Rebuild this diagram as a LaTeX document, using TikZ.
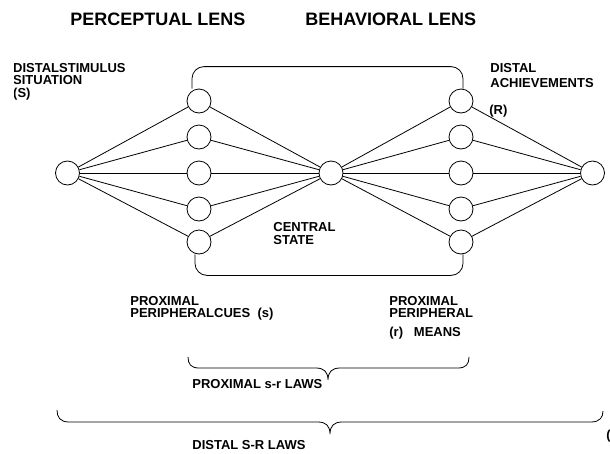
\documentclass[tikz,border=0pt]{standalone}
\usepackage{fontspec}
\setmainfont{Liberation Sans}
\begin{document}
\begin{tikzpicture}[x=1pt, y=-1pt, line width=0.8pt,
        unit/.style = {draw, circle, minimum size=24pt, inner sep=0pt},
        lab/.style = {anchor=north west, inner sep=0pt, align=left, font=\bfseries\fontsize{13}{12.3}\selectfont},
        head/.style = {anchor=north west, inner sep=0pt, font=\bfseries\fontsize{18}{18}\selectfont}]
        \useasboundingbox (0,0) rectangle (610,453);
        \begin{scope}[every node/.style = {unit}]
            \node (S) at (67.5, 173) {};
            \node (p1) at (199, 101) {};
            \node (p2) at (199, 137) {};
            \node (p3) at (199, 173) {};
            \node (p4) at (199, 209) {};
            \node (p5) at (199, 242) {};
            \node (C) at (331, 173) {};
            \node (m1) at (461, 101) {};
            \node (m2) at (461, 137) {};
            \node (m3) at (461, 173) {};
            \node (m4) at (461, 209) {};
            \node (m5) at (461, 242) {};
            \node (R) at (592.5, 173) {};
        \end{scope}
        \draw (S) edge (p1) edge (p2) edge (p3) edge (p4) edge (p5);
        \draw (C) edge (p1) edge (p2) edge (p3) edge (p4) edge (p5);
        \draw (C) edge (m1) edge (m2) edge (m3) edge (m4) edge (m5);
        \draw (R) edge (m1) edge (m2) edge (m3) edge (m4) edge (m5);
        % lens brackets
        \draw[rounded corners=12pt] ([xshift=-7pt]p1.north) -- ++(0,-22) -| ([xshift=2pt]m1.north);
        \draw[rounded corners=12pt] ([xshift=-4pt]p5.south) -- ++(0,21) -| ([xshift=2pt]m5.south);
        % braces
        \draw (188,357) .. controls (188,364) and (191,368) .. (199,368) -- (316,368)
            .. controls (324,368) and (328,372) .. (328,380) .. controls (328,372) and (332,368) .. (340,368)
            -- (458,368) .. controls (466,368) and (469,364) .. (469,357);
        \draw (57,410) .. controls (57,417) and (60,422) .. (69,422) -- (318,422)
            .. controls (326,422) and (330,426) .. (330,434) .. controls (330,426) and (334,422) .. (342,422)
            -- (591,422) .. controls (600,422) and (603,417) .. (603,411);
        % labels
        \node[head] (perc) at (70, 13) {PERCEPTUAL LENS};
        \node[head] (behav) at (305, 13) {BEHAVIORAL LENS};
        \begin{scope}
            \clip (14,0) rectangle (610,453);
            \node[lab, anchor=north east] (stim) at (126, 63) {DISTALSTIMULUS\\SITUATION\\(S)};
        \end{scope}
        \node[lab, font=\bfseries\fontsize{13}{15}\selectfont] (ach) at (490, 63) {DISTAL\\ACHIEVEMENTS};
        \node[lab] (resp) at (489, 105) {(R)};
        \node[lab, font=\bfseries\fontsize{13}{13.5}\selectfont] (central) at (273, 222) {CENTRAL\\STATE};
        \node[lab] (cues) at (130, 296) {PROXIMAL\\PERIPHERALCUES~~(s)};
        \node[lab] (means) at (389, 296) {PROXIMAL\\PERIPHERAL\\[6pt](r)~~~MEANS};
        \node[lab] (proxlaws) at (192, 379) {PROXIMAL s-r LAWS};
        \node[lab] (distlaws) at (192, 440) {DISTAL S-R LAWS};
        \node[lab] (cut) at (606, 430) {(};
\end{tikzpicture}
\end{document}
